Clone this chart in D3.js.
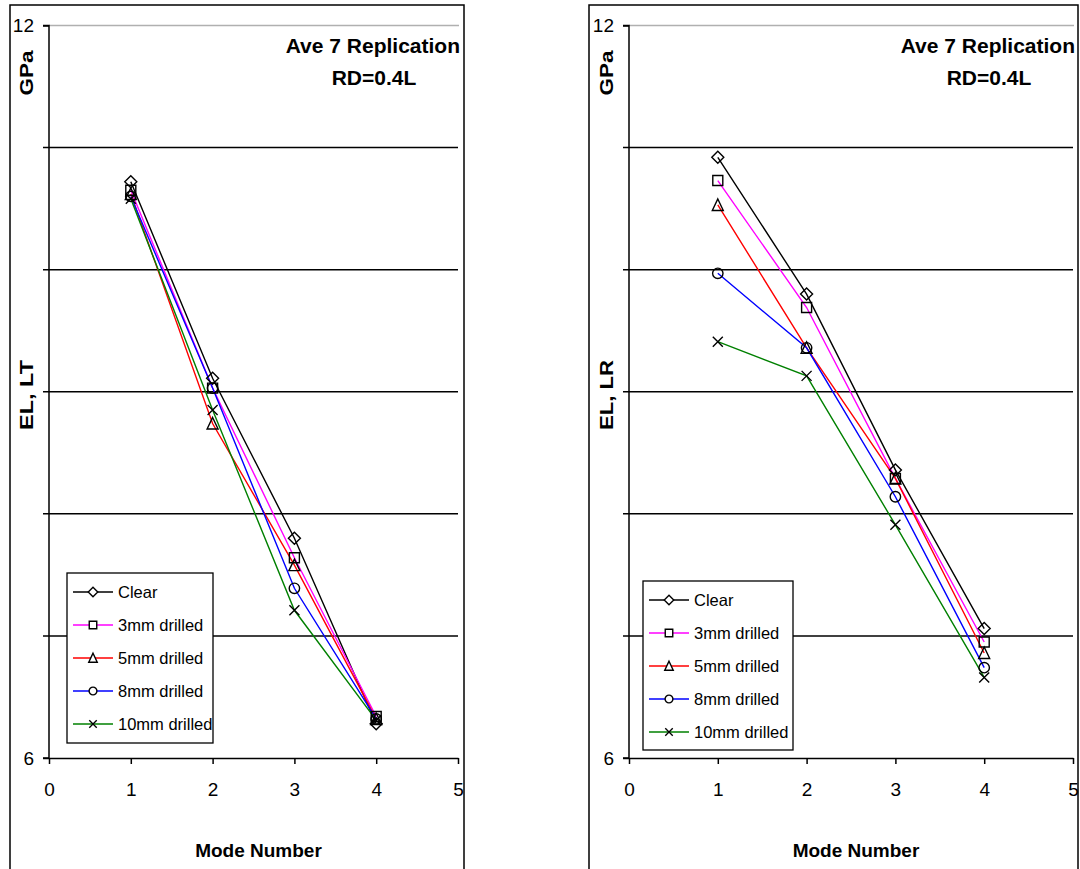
<!DOCTYPE html>
<html>
<head>
<meta charset="utf-8">
<script src="https://cdn.jsdelivr.net/npm/d3@7"></script>
<style>
  body { margin: 0; background: #fff; }
  svg { display: block; font-family: "Liberation Sans", Arial, sans-serif; }
</style>
</head>
<body>
<svg id="chart" width="1080" height="869"></svg>
<script>
// data
var modes = [1, 2, 3, 4];
var seriesNames = ["Clear", "3mm drilled", "5mm drilled", "8mm drilled", "10mm drilled"];
var seriesColors = ["#000000", "#ff00ff", "#ff0000", "#0000ff", "#008000"];
var seriesSymbols = ["diamond", "square", "triangle", "circle", "cross"];

var ltClear = [10.72, 9.11, 7.80, 6.28];
var lt3mm   = [10.65, 9.03, 7.64, 6.34];
var lt5mm   = [10.62, 8.74, 7.58, 6.32];
var lt8mm   = [10.60, 9.03, 7.39, 6.32];
var lt10mm  = [10.58, 8.85, 7.21, 6.31];

var lrClear = [10.92, 9.80, 8.36, 7.06];
var lr3mm   = [10.73, 9.69, 8.29, 6.95];
var lr5mm   = [10.53, 9.36, 8.29, 6.86];
var lr8mm   = [9.97, 9.36, 8.14, 6.74];
var lr10mm  = [9.41, 9.13, 7.91, 6.66];

var xTicks = [0, 1, 2, 3, 4, 5];
var yTicks = [6, 12];
var yGrid = [7, 8, 9, 10, 11];

var svg = d3.select("#chart");

var panels = [
  {frame: [10, 5, 454, 880], x0: 49, x1: 458, legend: [67, 573, 146, 170], yLabel: "EL, LT",
   series: [ltClear, lt3mm, lt5mm, lt8mm, lt10mm]},
  {frame: [589, 5, 489, 880], x0: 629, x1: 1073, legend: [643, 581, 150, 169], yLabel: "EL, LR",
   series: [lrClear, lr3mm, lr5mm, lr8mm, lr10mm]}
];

function symbolPath(kind, k) {
  var s = 5 * k;
  if (kind == "diamond") return "M0," + (-s-1) + "L" + (s+1) + ",0L0," + (s+1) + "L" + (-s-1) + ",0Z";
  if (kind == "square") return "M" + -s + "," + -s + "h" + 2*s + "v" + 2*s + "h" + -2*s + "Z";
  if (kind == "triangle") return "M0," + (-s-1) + "L" + (s+0.5) + "," + (s+0.5) + "L" + (-s-0.5) + "," + (s+0.5) + "Z";
  if (kind == "circle") return d3.symbol().type(d3.symbolCircle).size(85 * k * k)();
  return "M" + -s + "," + -s + "L" + s + "," + s + "M" + s + "," + -s + "L" + -s + "," + s;
}

panels.forEach(function(p) {
  var g = svg.append("g");
  g.append("rect")
    .attr("x", p.frame[0]).attr("y", p.frame[1])
    .attr("width", p.frame[2]).attr("height", p.frame[3])
    .attr("fill", "#fff").attr("stroke", "#000").attr("stroke-width", 1.5);

  var x = d3.scaleLinear().domain([0, 5]).range([p.x0, p.x1]);
  var y = d3.scaleLinear().domain([6, 12]).range([758, 25.5]);

  // top grey line at 12
  g.append("line")
    .attr("x1", p.x0).attr("x2", p.x1 + 1)
    .attr("y1", y(12)).attr("y2", y(12))
    .attr("stroke", "#b0b0b0").attr("stroke-width", 1.5);

  g.selectAll(".grid").data(yGrid).enter().append("line")
    .attr("x1", p.x0 - 6).attr("x2", p.x1)
    .attr("y1", function(d) { return y(d); }).attr("y2", function(d) { return y(d); })
    .attr("stroke", "#000").attr("stroke-width", 1.5);

  var yAxis = d3.axisLeft(y).tickValues(yTicks).tickSize(6).tickPadding(9)
    .tickFormat(d3.format("d"));
  var ya = g.append("g").attr("transform", "translate(" + p.x0 + ",0)").call(yAxis);
  ya.select(".domain").attr("stroke-width", 1.5).attr("d", "M-6," + y(12) + "H0V" + y(6) + "H-6");
  ya.selectAll("text").attr("font-size", 19).attr("fill", "#000").attr("font-family", "Liberation Sans");
  ya.selectAll(".tick line").attr("stroke-width", 1.5);

  var xAxis = d3.axisBottom(x).tickValues(xTicks).tickSize(6).tickSizeOuter(0).tickPadding(19)
    .tickFormat(d3.format("d"));
  var xa = g.append("g").attr("transform", "translate(0," + y(6) + ")").call(xAxis);
  xa.select(".domain").attr("stroke-width", 1.5);
  xa.selectAll(".tick line").attr("stroke-width", 1.5);
  xa.selectAll("text").attr("font-size", 19).attr("fill", "#000").attr("font-family", "Liberation Sans");

  // series lines
  var line = d3.line().x(function(d, i) { return x(modes[i]); }).y(function(d) { return y(d); });
  p.series.forEach(function(vals, si) {
    g.append("path").datum(vals).attr("d", line)
      .attr("fill", "none").attr("stroke", seriesColors[si]).attr("stroke-width", 1.4);
  });
  p.series.forEach(function(vals, si) {
    g.selectAll(".m" + si).data(vals).enter().append("path")
      .attr("transform", function(d, i) { return "translate(" + x(modes[i]) + "," + y(d) + ")"; })
      .attr("d", symbolPath(seriesSymbols[si], 1))
      .attr("fill", "none").attr("stroke", "#000").attr("stroke-width", 1.4);
  });

  // titles
  g.append("text").attr("x", p.x1 + 2).attr("y", 53).attr("text-anchor", "end")
    .attr("font-size", 21).attr("font-weight", "bold").text("Ave 7 Replication");
  g.append("text").attr("x", p.x1 - 84).attr("y", 85).attr("text-anchor", "middle")
    .attr("font-size", 21).attr("font-weight", "bold").text("RD=0.4L");
  g.append("text").attr("x", (p.x0 + p.x1) / 2 + 5).attr("y", 857).attr("text-anchor", "middle")
    .attr("font-size", 19).attr("font-weight", "bold").text("Mode Number");
  g.append("text").attr("transform", "translate(" + (p.x0 - 16) + ",73) rotate(-90)")
    .attr("text-anchor", "middle").attr("font-size", 18).attr("font-weight", "bold")
    .attr("textLength", 45).attr("lengthAdjust", "spacingAndGlyphs").text("GPa");
  g.append("text").attr("transform", "translate(" + (p.x0 - 16) + ",395) rotate(-90)")
    .attr("text-anchor", "middle").attr("font-size", 19).attr("font-weight", "bold")
    .attr("textLength", 70).attr("lengthAdjust", "spacingAndGlyphs").text(p.yLabel);

  // legend
  var L = p.legend;
  g.append("rect").attr("x", L[0]).attr("y", L[1]).attr("width", L[2]).attr("height", L[3])
    .attr("fill", "#fff").attr("stroke", "#000").attr("stroke-width", 1.3);
  var items = g.selectAll(".leg").data(seriesNames).enter().append("g")
    .attr("transform", function(d, i) { return "translate(" + (L[0] + 6) + "," + (L[1] + 19 + i * 33) + ")"; });
  items.append("line").attr("x1", 0).attr("x2", 40)
    .attr("stroke", function(d, i) { return seriesColors[i]; }).attr("stroke-width", 1.4);
  items.append("path").attr("transform", "translate(20,0)")
    .attr("d", function(d, i) { return symbolPath(seriesSymbols[i], 0.75); })
    .attr("fill", function(d, i) { return i == 4 ? "none" : "#fff"; })
    .attr("stroke", "#000").attr("stroke-width", 1.4);
  items.append("text").attr("x", 45).attr("y", 6).attr("font-size", 16.5).text(function(d) { return d; });
});
</script>
</body>
</html>
